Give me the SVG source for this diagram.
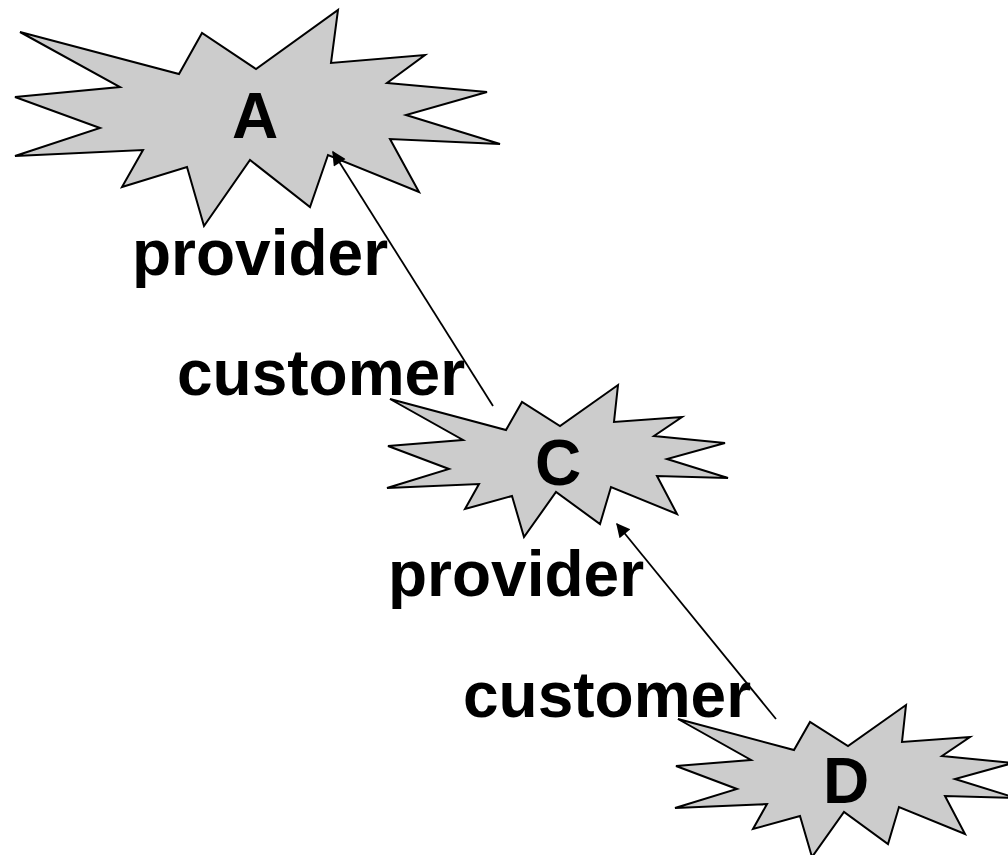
<svg xmlns="http://www.w3.org/2000/svg" width="1008" height="855" viewBox="0 0 1008 855">
  <style>
    .star { fill: #cccccc; stroke: #000000; stroke-width: 2; stroke-linejoin: miter; }
    .lbl { font-family: "Liberation Sans", Arial, sans-serif; font-weight: bold; font-size: 64px; fill: #000000; }
    .name { text-anchor: middle; }
    .link { stroke: #000000; stroke-width: 1.8; fill: none; marker-end: url(#head); }
  </style>
  <defs>
    <marker id="head" viewBox="0 0 10 10" refX="9" refY="5" markerWidth="17" markerHeight="14" markerUnits="userSpaceOnUse" orient="auto">
      <path d="M0,0 L10,5 L0,10 Z" fill="#000000"/>
    </marker>
    <!-- explosion outline, drawn at the size of C; D is a moved copy -->
    <polygon id="burst" points="390,399 506,430 522,402 560,426 618,385 614,422 682,417 654,436 725,443 667,459 728,478 657,476 677,514 611,487 600,524 556,492 524,537 512,496 465,509 479,484 387,488 449,469 388,446 463,440"/>
  </defs>

  <g id="node-A">
    <polygon class="star" points="20,32 179,74 202,33 256,69 338,10 331,63 425,55 387,83 487,92 406,115 500,144 390,139 419,192 328,155 310,207 250,160 204,226 187,167 122,187 143,150 15,156 100,128 15,97 120,87"/>
    <text class="lbl name" x="255" y="138">A</text>
  </g>

  <g id="node-C">
    <use href="#burst" class="star"/>
    <text class="lbl name" x="558" y="485">C</text>
  </g>

  <g id="node-D">
    <use href="#burst" class="star" transform="translate(288,320)"/>
    <text class="lbl name" x="846" y="803">D</text>
  </g>

  <g id="connectors">
    <line class="link" x1="493" y1="406" x2="333" y2="152"/>
    <line class="link" x1="776" y1="719" x2="617" y2="524"/>
  </g>

  <g id="labels">
    <text class="lbl" x="132" y="275">provider</text>
    <text class="lbl" x="177" y="395">customer</text>
    <text class="lbl" x="388" y="596">provider</text>
    <text class="lbl" x="463" y="717">customer</text>
  </g>
</svg>
